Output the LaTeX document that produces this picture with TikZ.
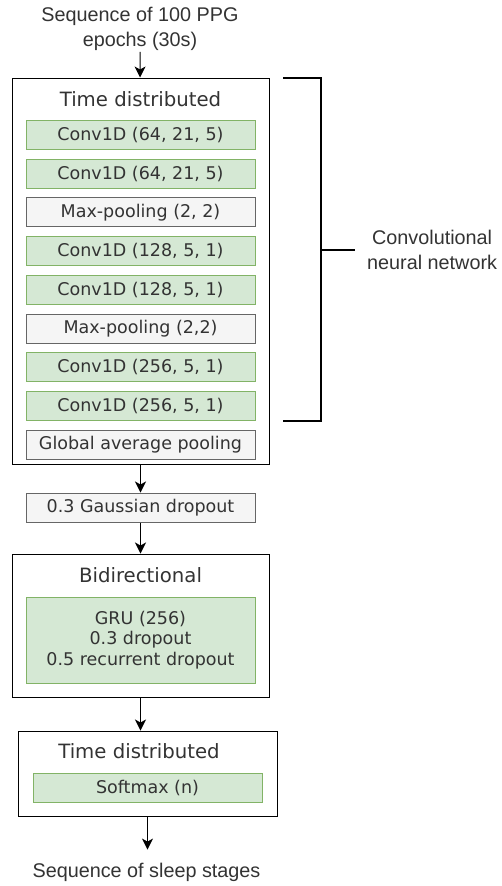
\documentclass[tikz,border=0pt]{standalone}
\usepackage{fontspec}
\setmainfont{DejaVu Sans}
\newfontfamily\arialfont{Liberation Sans}
\usetikzlibrary{positioning,arrows.meta}
\definecolor{convfill}{HTML}{D5E8D4}
\definecolor{convline}{HTML}{82B366}
\definecolor{poolfill}{HTML}{F5F5F5}
\definecolor{poolline}{HTML}{666666}
\definecolor{labeltext}{HTML}{333333}

\begin{document}
\begin{tikzpicture}[x=1pt, y=-1pt,
    container/.style={rectangle, draw=black, line width=1pt, inner sep=0pt},
    layer/.style={rectangle, line width=1pt, minimum width=229pt, minimum height=29pt, inner sep=0pt, align=center, text=labeltext, font=\fontsize{17.5}{20.5}\selectfont},
    conv/.style={layer, fill=convfill, draw=convline},
    pool/.style={layer, fill=poolfill, draw=poolline},
    title/.style={inner sep=0pt, text=labeltext, font=\fontsize{19.7}{23}\selectfont},
    caption/.style={inner sep=1pt, align=center, text=labeltext, font=\arialfont\fontsize{19.8}{25}\selectfont},
    arrow/.style={-{Stealth[length=11pt, width=11pt, inset=3pt]}, line width=1pt},
    bracket/.style={line width=2.6pt}
  ]
    \useasboundingbox (0,0) rectangle (501,886);

    \node[caption] (input) at (140,29) {Sequence of 100 PPG\\epochs (30s)};

    \node[container, minimum width=257pt, minimum height=386pt] (cnnbox) at (140.5,271) {};
    \node[title] (cnntitle) at (140.5,99) {Time distributed};
    \node[conv] (conv1) at (140.5,135) {Conv1D (64, 21, 5)};
    \node[conv, below=8.7pt of conv1] (conv2) {Conv1D (64, 21, 5)};
    \node[pool, below=8.7pt of conv2] (pool1) {Max-pooling (2, 2)};
    \node[conv, below=8.7pt of pool1] (conv3) {Conv1D (128, 5, 1)};
    \node[conv, below=8.7pt of conv3] (conv4) {Conv1D (128, 5, 1)};
    \node[pool, below=8.7pt of conv4] (pool2) {Max-pooling (2,2)};
    \node[conv, below=8.7pt of pool2] (conv5) {Conv1D (256, 5, 1)};
    \node[conv, below=8.7pt of conv5] (conv6) {Conv1D (256, 5, 1)};
    \node[pool, below=8.7pt of conv6] (gap) {Global average pooling};

    \coordinate (bracetop) at (283,78);
    \coordinate (bracebot) at (283,421);
    \coordinate (bracemid) at (321,250);
    \coordinate (bracetip) at (355,250);
    \node[caption, inner sep=0pt, right=12pt of bracetip] (cnnlabel) {Convolutional\\neural network};
    \draw[bracket] (bracetop) -| (bracemid) |- (bracebot);
    \draw[bracket] (bracemid) -- (bracetip);

    \node[pool] (gauss) at (140.5,507.5) {0.3 Gaussian dropout};

    \node[container, minimum width=257pt, minimum height=143pt] (bidibox) at (140.5,625.5) {};
    \node[title] (bidititle) at (140.5,575) {Bidirectional};
    \node[conv, minimum height=86pt] (gru) at (140.5,640) {GRU (256)\\0.3 dropout\\0.5 recurrent dropout};

    \node[container, minimum width=259pt, minimum height=85pt] (outbox) at (147.5,773.5) {};
    \node[title] (outtitle) at (139,751) {Time distributed};
    \node[conv] (softmax) at (147.5,787.5) {Softmax (n)};

    \node[caption, inner ysep=13pt] (output) at (146.5,872) {Sequence of sleep stages};

    \draw[arrow] (input) -- (cnnbox);
    \draw[arrow] (cnnbox) -- (gauss);
    \draw[arrow] (gauss) -- (bidibox);
    \draw[arrow] (bidibox.south) -- (bidibox.south |- outbox.north);
    \draw[arrow] (outbox.south) -- (outbox.south |- output.north);
  \end{tikzpicture}
\end{document}
